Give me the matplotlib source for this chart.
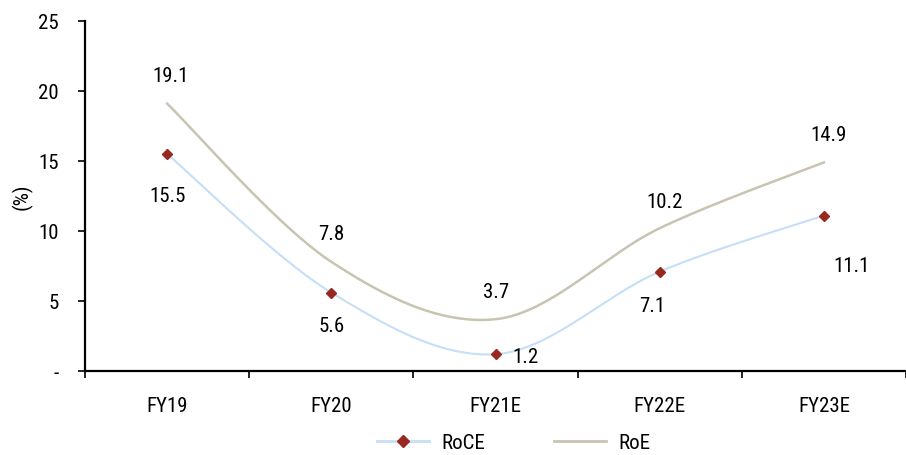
import matplotlib
matplotlib.use("Agg")
import matplotlib.pyplot as plt
import numpy as np
from matplotlib import font_manager

# buscar una fuente estrecha (tipo Arial Narrow)
estrechas = []
for f in font_manager.fontManager.ttflist:
    st = str(f.stretch).lower()
    if "narrow" in f.name.lower() or "condensed" in f.name.lower() or st in ("condensed", "semi-condensed", "extra-condensed"):
        estrechas.append(f)
elegida = None
for pref in ["Liberation Sans Narrow", "Roboto Condensed", "DejaVu Sans", "Open Sans", "Noto Sans", "Roboto"]:
    for f in estrechas:
        if f.name == pref:
            elegida = f
            break
    if elegida:
        break
if elegida is None and estrechas:
    elegida = estrechas[0]
if elegida is not None:
    plt.rcParams["font.family"] = [elegida.name, "DejaVu Sans"]
    plt.rcParams["font.stretch"] = elegida.stretch
else:
    plt.rcParams["font.family"] = ["DejaVu Sans"]

years = ["FY19", "FY20", "FY21E", "FY22E", "FY23E"]
roce = [15.5, 5.6, 1.2, 7.1, 11.1]
roe = [19.1, 7.8, 3.7, 10.2, 14.9]

# desplazamiento de etiquetas en pixeles (dx, dy)
off_roce = [(0, -42), (0, -33), (30, -2), (-8, -34), (28, -50)]
off_roe = [(3, 28), (0, 28), (1, 28), (5, 27), (5, 28)]

color_roce = "#C6DEF6"
color_mark = "#982820"
color_roe = "#C9C4B2"


def suavizar(y, n=40):
    # curva suave estilo Excel (bezier con puntos de control Catmull-Rom)
    y = np.asarray(y, float)
    x = np.arange(len(y), dtype=float)
    px = np.concatenate([[x[0]], x, [x[-1]]])
    py = np.concatenate([[y[0]], y, [y[-1]]])
    xs, ys = [], []
    t = np.linspace(0, 1, n)
    for i in range(len(y) - 1):
        p0 = np.array([px[i + 1], py[i + 1]])
        p3 = np.array([px[i + 2], py[i + 2]])
        c1 = p0 + (np.array([px[i + 2], py[i + 2]]) - np.array([px[i], py[i]])) / 6
        c2 = p3 - (np.array([px[i + 3], py[i + 3]]) - np.array([px[i + 1], py[i + 1]])) / 6
        b = ((1 - t) ** 3)[:, None] * p0 + (3 * (1 - t) ** 2 * t)[:, None] * c1 \
            + (3 * (1 - t) * t ** 2)[:, None] * c2 + (t ** 3)[:, None] * p3
        xs.extend(b[:, 0])
        ys.extend(b[:, 1])
    return np.array(xs), np.array(ys)


fig = plt.figure(figsize=(9.06, 4.56), dpi=100)
ax = fig.add_axes([85 / 906, 84 / 456, (906 - 85) / 906, 350 / 456])

x = np.arange(len(years))
sx, sy = suavizar(roce)
ax.plot(sx, sy, color=color_roce, lw=1.5, zorder=2)
ax.plot(x, roce, ls="none", marker="D", ms=5, color=color_mark, zorder=3)
sx, sy = suavizar(roe)
ax.plot(sx, sy, color=color_roe, lw=1.8, zorder=2)

for i in range(len(years)):
    ax.annotate(f"{roce[i]:.1f}", (x[i], roce[i]),
                xytext=(off_roce[i][0] * 0.72, off_roce[i][1] * 0.72),
                textcoords="offset points", ha="center", va="center", fontsize=15)
    ax.annotate(f"{roe[i]:.1f}", (x[i], roe[i]),
                xytext=(off_roe[i][0] * 0.72, off_roe[i][1] * 0.72),
                textcoords="offset points", ha="center", va="center", fontsize=15)

ax.set_ylim(0, 25)
ax.set_xlim(-0.5, 4.42)
ax.set_yticks([0, 5, 10, 15, 20, 25])
ax.set_yticklabels(["-", "5", "10", "15", "20", "25"])
ax.set_xticks(x)
ax.set_xticklabels(years)
ax.set_xticks(np.arange(-0.5, 5, 1), minor=True)
ax.tick_params(axis="x", which="major", length=0, pad=18, labelsize=15)
ax.tick_params(axis="x", which="minor", length=5, width=1.2, direction="out")
ax.tick_params(axis="y", length=5, width=1.2, labelsize=15, pad=14)
ax.set_ylabel("(%)", fontsize=15, labelpad=4)

for s in ["top", "right"]:
    ax.spines[s].set_visible(False)
ax.spines["left"].set_linewidth(1.6)
ax.spines["bottom"].set_linewidth(1.6)

# leyenda
h1, = ax.plot([], [], color=color_roce, lw=2, marker="D", ms=6,
              markerfacecolor=color_mark, markeredgecolor=color_mark)
h2, = ax.plot([], [], color=color_roe, lw=2)
fig.legend([h1, h2], ["RoCE", "RoE"], loc="center", bbox_to_anchor=(0.567, 12 / 456),
           ncol=2, frameon=False, fontsize=15, handlelength=2.5, columnspacing=3.3,
           handletextpad=0.6)

fig.savefig("out.png", dpi=100)
